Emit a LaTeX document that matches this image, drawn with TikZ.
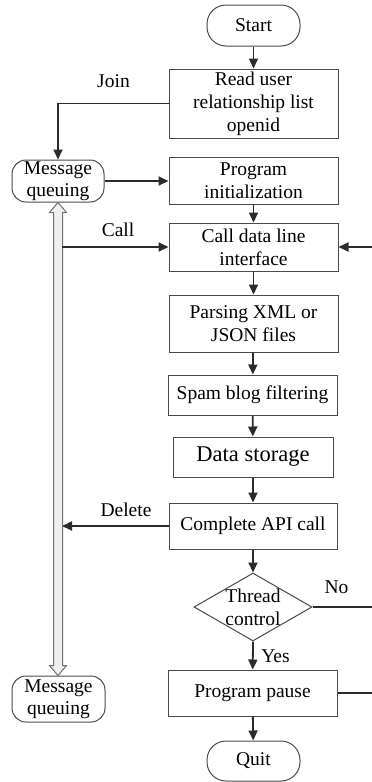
\documentclass[tikz,border=0pt]{standalone}
\usepackage{fontspec}
\setmainfont{Liberation Serif}
\usetikzlibrary{arrows.meta,shapes.geometric,calc}

\definecolor{boxgrey}{HTML}{4A4A4A}
\definecolor{linegrey}{HTML}{2B2B2B}
\definecolor{pipefill}{HTML}{EFEFEF}
\definecolor{pipeline}{HTML}{707070}

\begin{document}
\begin{tikzpicture}[x=1pt,y=-1pt,
  every node/.style={font=\fontsize{19.5}{23}\selectfont, text=black},
  box/.style={draw=boxgrey, line width=1pt, rectangle, align=center, inner sep=0pt},
  term/.style={draw=boxgrey, line width=1pt, rectangle, rounded corners=19pt, align=center, inner sep=0pt},
  queue/.style={draw=boxgrey, line width=1pt, rectangle, rounded corners=14pt, align=center, inner sep=0pt,
                font=\fontsize{19.5}{22}\selectfont},
  decision/.style={draw=boxgrey, line width=1pt, diamond, inner sep=0pt},
  flow/.style={draw=linegrey, line width=1.8pt, -{Triangle[length=10pt,width=9pt]}},
  plain/.style={draw=linegrey, line width=1.8pt},
  lbl/.style={anchor=base},
  pipe/.style={draw=pipeline, fill=pipefill, line width=1pt, line join=miter}
]
\useasboundingbox (0,0) rectangle (372,782);

% main column
\node[term, minimum width=93pt, minimum height=41pt] (start) at (253.5,25.5) {Start};
\node[box, minimum width=169pt, minimum height=69pt] (read) at (253.5,103.5) {Read user\\relationship list\\openid};
\node[box, minimum width=169pt, minimum height=47pt] (init) at (253.5,180.5) {Program\\initialization};
\node[box, minimum width=169pt, minimum height=48pt] (call) at (253.5,247) {Call data line\\interface};
\node[box, minimum width=169pt, minimum height=57pt] (parse) at (253.5,323.5) {Parsing XML or\\JSON files};
\node[box, minimum width=169pt, minimum height=40pt] (spam) at (252.5,395) {Spam blog filtering};
\node[box, minimum width=160pt, minimum height=40pt, font=\fontsize{22.5}{26}\selectfont] (store) at (253,457) {Data storage};
\node[box, minimum width=168pt, minimum height=46pt] (api) at (253,526) {Complete API call};
\node[decision, minimum width=118pt, minimum height=68pt] (dec) at (253,607) {};
\node[align=center, inner sep=0pt] (dectext) at (253,607.5) {Thread\\control};
\node[box, minimum width=169pt, minimum height=46pt] (pause) at (252.5,693) {Program pause};
\node[term, minimum width=93pt, minimum height=40pt] (quit) at (253.5,761) {Quit};

% message queues
\node[queue, minimum width=92pt, minimum height=42pt] (mq1) at (58,181) {Message\\queuing};
\node[queue, minimum width=93pt, minimum height=46pt] (mq2) at (58.5,699) {Message\\queuing};

% helper coordinates
\coordinate (edge) at (372,0);
\coordinate (shaft) at (62,0);

% hollow two-way pipe between the queues
\path[pipe] let \p1=(mq1.south), \p2=(mq2.north) in
  (\x1,\y1) -- ({\x1+8.5pt},{\y1-10pt}) -- ({\x1+4.5pt},{\y1-10pt})
  -- ({\x1+4.5pt},{\y2+10pt}) -- ({\x1+8.5pt},{\y2+10pt}) -- (\x1,\y2)
  -- ({\x1-8.5pt},{\y2+10pt}) -- ({\x1-4.5pt},{\y2+10pt})
  -- ({\x1-4.5pt},{\y1-10pt}) -- ({\x1-8.5pt},{\y1-10pt}) -- cycle;

% main flow
\draw[flow] (start) -- (read);
\draw[flow] (read.west) -| (mq1.north);
\draw[flow] (mq1.east) -- (init.west |- mq1.east);
\draw[flow] (init) -- (call);
\draw[flow] (call) -- (parse);
\draw[flow] (parse) -- (spam);
\draw[flow] (spam) -- (store);
\draw[flow] (store) -- (api);
\draw[flow] (api) -- (dec.north);
\draw[flow] (dec.south) -- (pause);
\draw[flow] (pause) -- (quit);

% side branches
\draw[flow] (shaft |- call.west) -- (call.west);
\draw[flow] (api.west) -- (api.west -| shaft);
\draw[flow] (edge |- call.east) -- (call.east);
\draw[plain] (dec.east) -- (dec.east -| edge);
\draw[plain] (pause.east) -- (pause.east -| edge);

% labels
\node[lbl] (joinlbl) at (113.5,87) {Join};
\node[lbl] (calllbl) at (118,236) {Call};
\node[lbl] (dellbl) at (126,516) {Delete};
\node[lbl] (nolbl) at (336.5,593) {No};
\node[lbl] (yeslbl) at (275.5,662) {Yes};
\end{tikzpicture}
\end{document}
